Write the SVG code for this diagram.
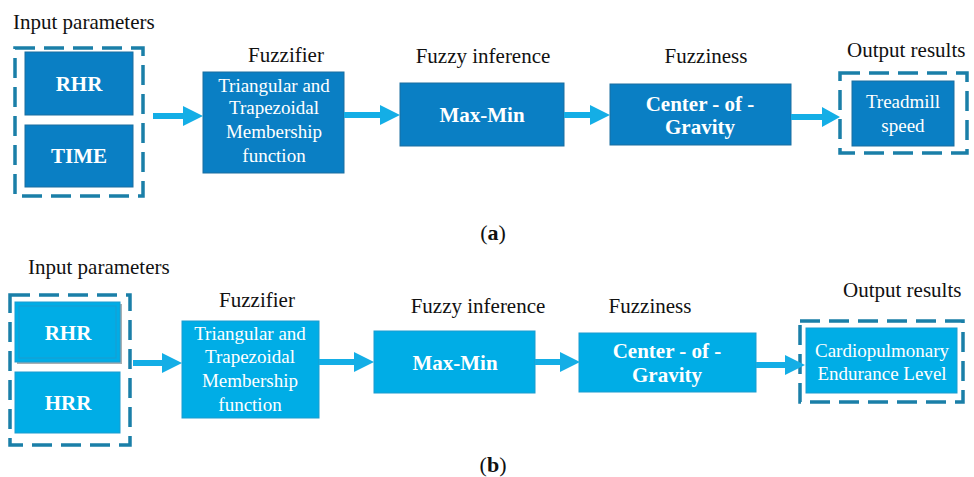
<svg xmlns="http://www.w3.org/2000/svg" width="974" height="477" viewBox="0 0 974 477" font-family="Liberation Serif, Times New Roman, serif">
<style>
.lbl{font-size:21px;fill:#111;}
.bt{font-size:19px;fill:#fff;text-anchor:middle;}
.bb{font-size:21px;font-weight:bold;fill:#fff;text-anchor:middle;}
.cap{font-size:22px;fill:#111;text-anchor:middle;}
.da{fill:#0a7fc4;stroke:#1a6fa0;stroke-width:1;}
.db{fill:#00ade6;stroke:#1a9ccf;stroke-width:1;}
.dash{fill:none;stroke:#1a7fa8;stroke-width:3.5;stroke-dasharray:20 9;}
.arr{fill:#14aee6;}
</style>
<rect width="974" height="477" fill="#fff"/>

<!-- (a) -->
<g id="a-input">
<text class="lbl" x="13" y="29">Input parameters</text>
<rect class="dash" x="15" y="48" width="128" height="148"/>
<rect class="da" x="25" y="52" width="108" height="63"/>
<text class="bb" x="79" y="91">RHR</text>
<rect class="da" x="25" y="125" width="108" height="62"/>
<text class="bb" x="79" y="163">TIME</text>
</g>
<g id="a-fuzzifier">
<text class="lbl" x="286" y="62" text-anchor="middle">Fuzzifier</text>
<rect class="da" x="203" y="72" width="141" height="101"/>
<text class="bt" x="274" y="92">Triangular and</text>
<text class="bt" x="274" y="114">Trapezoidal</text>
<text class="bt" x="274" y="138">Membership</text>
<text class="bt" x="274" y="162">function</text>
</g>
<g id="a-inference">
<text class="lbl" x="483" y="63" text-anchor="middle">Fuzzy inference</text>
<rect class="da" x="400" y="83" width="164" height="63"/>
<text class="bb" x="482" y="122">Max-Min</text>
</g>
<g id="a-fuzziness">
<text class="lbl" x="706" y="63" text-anchor="middle">Fuzziness</text>
<rect class="da" x="610" y="84" width="181" height="61"/>
<text class="bb" x="700" y="111">Center - of -</text>
<text class="bb" x="700" y="134">Gravity</text>
</g>
<g id="a-output">
<text class="lbl" x="847" y="57">Output results</text>
<rect class="dash" x="840" y="73" width="127" height="80"/>
<rect class="da" x="852" y="81" width="102" height="65"/>
<text class="bt" x="903" y="108">Treadmill</text>
<text class="bt" x="903" y="132">speed</text>
</g>
<text class="cap" x="493" y="240">(<tspan font-weight="bold">a</tspan>)</text>

<!-- (b) -->
<g id="b-input">
<text class="lbl" x="28" y="274">Input parameters</text>
<rect class="dash" x="10" y="295" width="120" height="150"/>
<rect x="17" y="304" width="105" height="60" fill="#6a7a80" opacity="0.6"/>
<rect class="db" x="15" y="302" width="105" height="60"/>
<rect x="19" y="306" width="97" height="52" fill="none" stroke="#1a9ccf" stroke-width="1"/>
<text class="bb" x="68" y="340">RHR</text>
<rect class="db" x="15" y="372" width="105" height="61"/>
<text class="bb" x="68" y="410">HRR</text>
</g>
<g id="b-fuzzifier">
<text class="lbl" x="257" y="307" text-anchor="middle">Fuzzifier</text>
<rect class="db" x="182" y="321" width="137" height="97"/>
<text class="bt" x="250" y="340">Triangular and</text>
<text class="bt" x="250" y="363">Trapezoidal</text>
<text class="bt" x="250" y="387">Membership</text>
<text class="bt" x="250" y="411">function</text>
</g>
<g id="b-inference">
<text class="lbl" x="478" y="313" text-anchor="middle">Fuzzy inference</text>
<rect class="db" x="374" y="331" width="161" height="62"/>
<text class="bb" x="455" y="370">Max-Min</text>
</g>
<g id="b-fuzziness">
<text class="lbl" x="650" y="313" text-anchor="middle">Fuzziness</text>
<rect class="db" x="579" y="333" width="177" height="59"/>
<text class="bb" x="667" y="358">Center - of -</text>
<text class="bb" x="667" y="382">Gravity</text>
</g>
<g id="b-output">
<text class="lbl" x="843" y="297">Output results</text>
<rect class="dash" x="800" y="321" width="163" height="81"/>
<rect class="db" x="806" y="328" width="151" height="65"/>
<text class="bt" x="882" y="357">Cardiopulmonary</text>
<text class="bt" x="882" y="380">Endurance Level</text>
</g>
<text class="cap" x="493" y="472">(<tspan font-weight="bold">b</tspan>)</text>

<g id="connectors">
<polygon class="arr" points="153,113 183,113 183,106 203,116 183,126 183,119 153,119"/>
<polygon class="arr" points="344,112 380,112 380,105 400,115 380,125 380,118 344,118"/>
<polygon class="arr" points="564,112 590,112 590,105 610,115 590,125 590,118 564,118"/>
<polygon class="arr" points="791,114 822,114 822,107 840,117 822,127 822,120 791,120"/>
<polygon class="arr" points="133,360 162,360 162,353 182,363 162,373 162,366 133,366"/>
<polygon class="arr" points="319,359 354,359 354,352 374,362 354,372 354,365 319,365"/>
<polygon class="arr" points="535,359 560,359 560,352 580,362 560,372 560,365 535,365"/>
<polygon class="arr" points="756,362 785,362 785,355 805,365 785,375 785,368 756,368"/>
</g>
</svg>
